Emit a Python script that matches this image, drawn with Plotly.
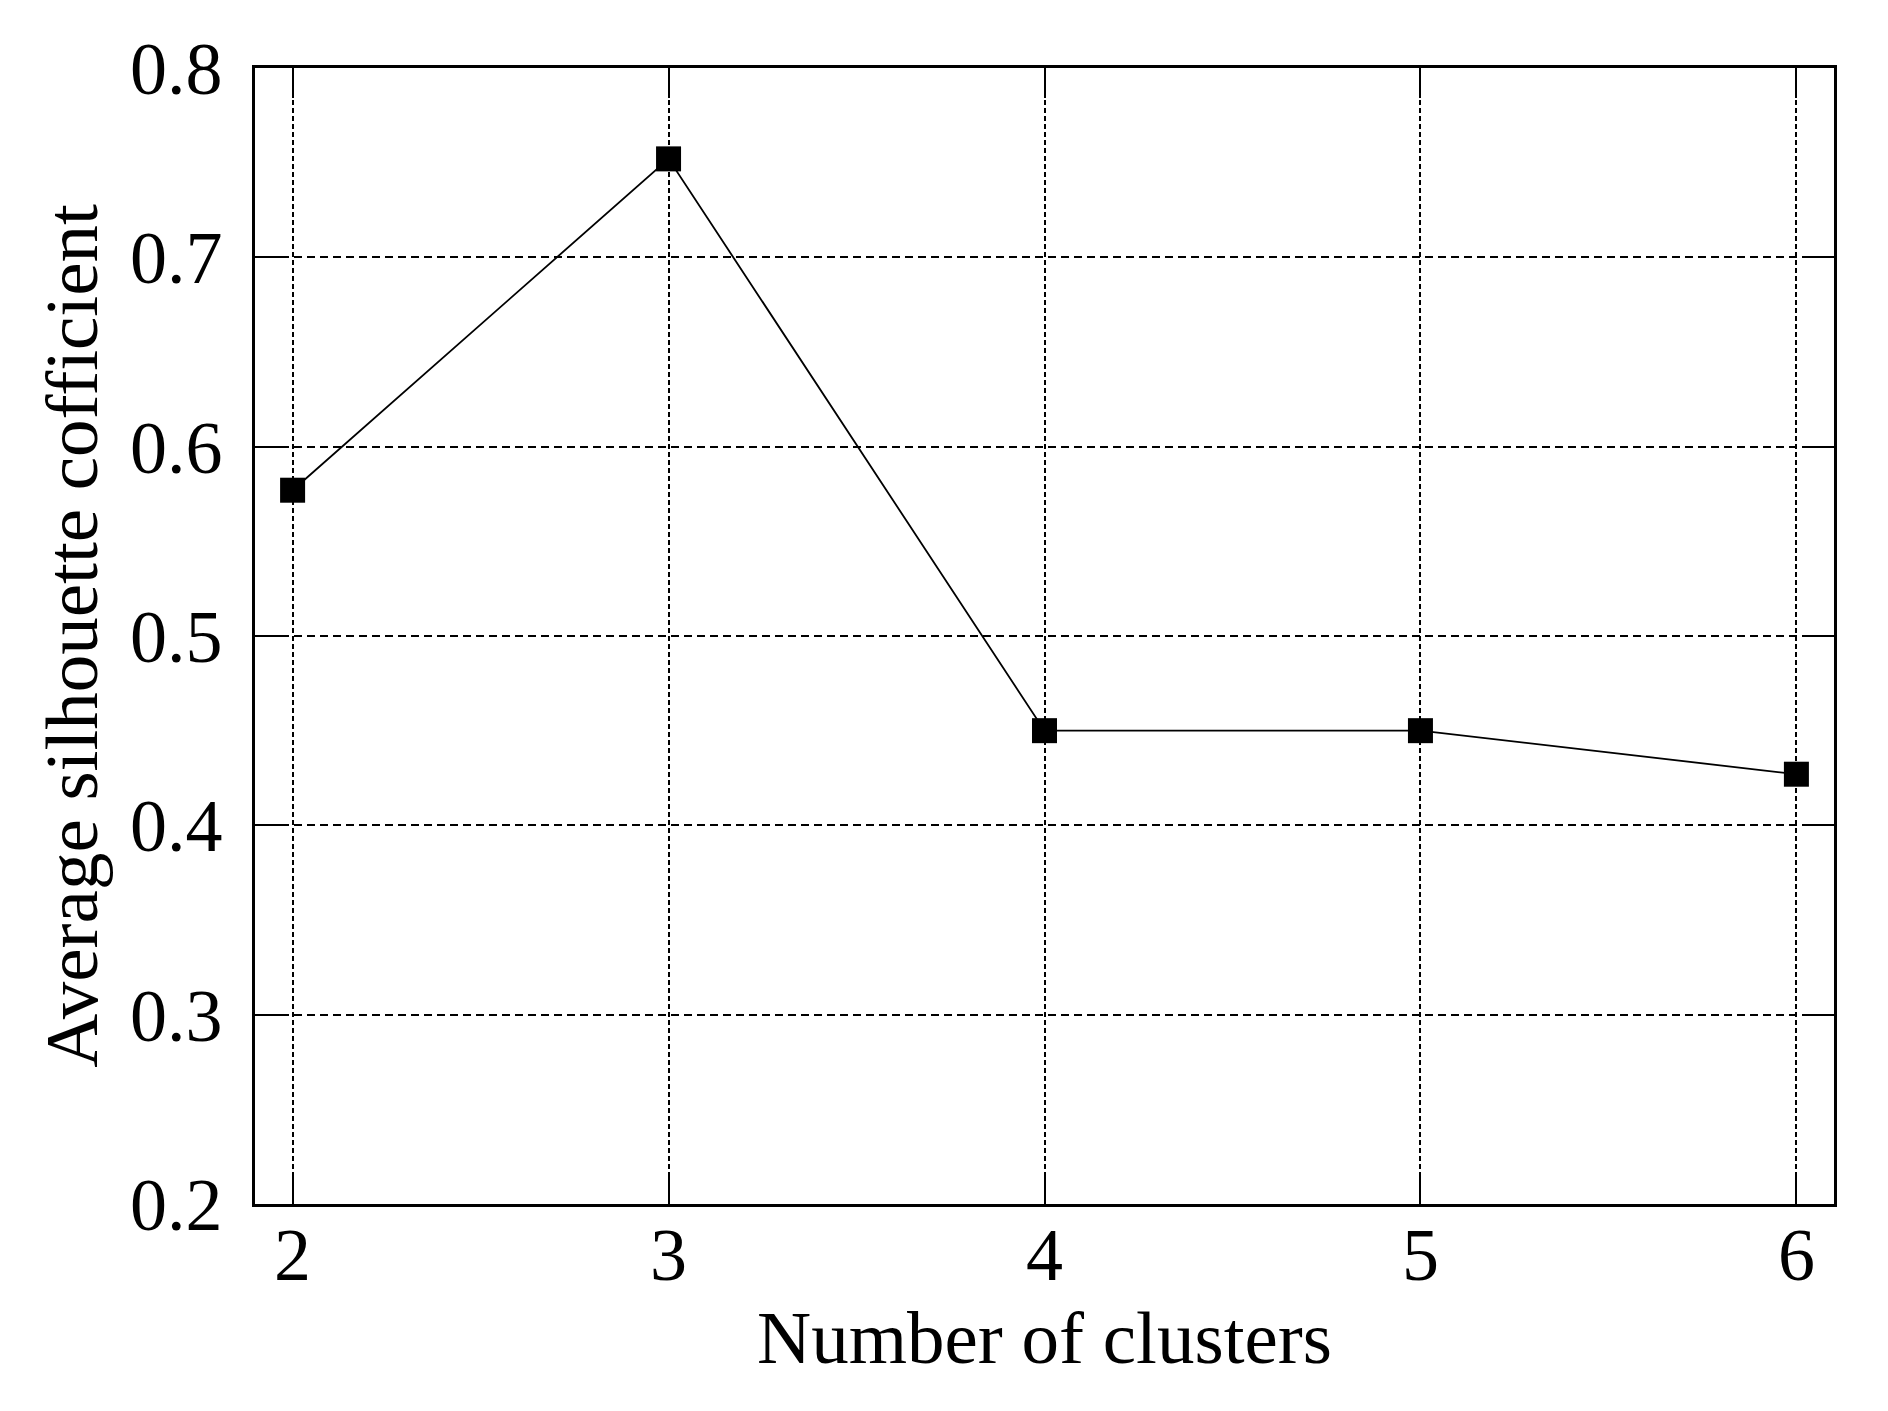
import plotly.graph_objects as go

# silhouette score against number of clusters
clusters = [2, 3, 4, 5, 6]
silhouette = [0.577, 0.752, 0.450, 0.450, 0.427]
x_ticks = [2, 3, 4, 5, 6]
y_ticks = [0.2, 0.3, 0.4, 0.5, 0.6, 0.7, 0.8]

serif = "Liberation Serif"

fig = go.Figure(go.Scatter(
	x=clusters, y=silhouette, mode="lines+markers",
	line=dict(color="black", width=1.8),
	marker=dict(symbol="square", size=25, color="black"),
	showlegend=False))

fig.update_xaxes(range=[1.9, 6.1], tickvals=x_ticks,
	showgrid=True, gridcolor="black", gridwidth=2, griddash="5px,3px",
	showline=True, linecolor="black", linewidth=2.5, mirror="ticks",
	ticks="inside", ticklen=30, tickwidth=2, tickcolor="black",
	ticklabelstandoff=-16, zeroline=False,
	tickfont=dict(family=serif, size=74, color="black"),
	title=dict(text="Number of clusters", standoff=2,
		font=dict(family=serif, size=75, color="black")))

fig.update_yaxes(range=[0.2, 0.8], tickvals=y_ticks, tickformat=".1f",
	showgrid=True, gridcolor="black", gridwidth=2, griddash="8px,5px",
	showline=True, linecolor="black", linewidth=2.5, mirror="ticks",
	ticks="inside", ticklen=30, tickwidth=2, tickcolor="black",
	ticklabelstandoff=15, zeroline=False,
	tickfont=dict(family=serif, size=74, color="black"),
	title=dict(text="Average silhouette cofficient", standoff=8,
		font=dict(family=serif, size=75, color="black")))

fig.update_layout(width=1888, height=1411, plot_bgcolor="white", paper_bgcolor="white",
	margin={"l": 247, "r": 62, "t": 60, "b": 215})

fig.write_html("out.html")
